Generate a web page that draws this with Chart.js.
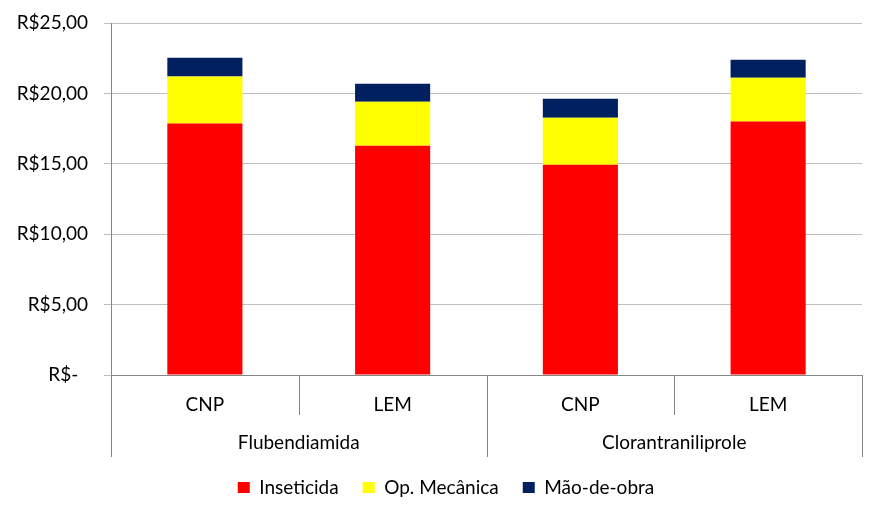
<!DOCTYPE html>
<html>
<head>
<meta charset="utf-8">
<script src="https://cdn.jsdelivr.net/npm/chart.js@4.4.1/dist/chart.umd.min.js"></script>
<style>
  body { margin: 0; background: #fff; }
</style>
</head>
<body>
<canvas id="costChart" width="886" height="517"></canvas>
<script>
// data
const categories = ['CNP', 'LEM', 'CNP', 'LEM'];
const groups = ['Flubendiamida', 'Clorantraniliprole'];
const groupSize = 2;
const inseticida = [17.86, 16.28, 14.93, 18.00];
const opMecanica = [3.34, 3.12, 3.34, 3.11];
const maoDeObra = [1.33, 1.28, 1.35, 1.28];
const yTicks = [0, 5, 10, 15, 20, 25];

const FONT = 'Lato, "Open Sans", sans-serif';
const AXIS_GRAY = '#868686';

function formatReal(v) {
    if (v === 0) return 'R$-  ';
    return 'R$' + v.toFixed(2).replace('.', ',');
}

// draws the category dividers and the second (group) row of the x axis
const groupAxis = {
    id: 'groupAxis',
    afterLayout(chart) {
        // center the legend on the whole canvas, like the original
        chart.legend.right += 30;
    },
    afterDraw(chart) {
        const x = chart.scales.x;
        const ctx = chart.ctx;
        const top = chart.chartArea.bottom;
        ctx.save();
        ctx.strokeStyle = AXIS_GRAY;
        ctx.lineWidth = 1;
        for (let i = 0; i <= categories.length; i++) {
            const px = Math.round(x.getPixelForValue(i - 0.5)) + 0.5;
            const len = (i % groupSize === 0) ? 82 : 40;
            ctx.beginPath();
            ctx.moveTo(px, top);
            ctx.lineTo(px, top + len);
            ctx.stroke();
        }
        ctx.fillStyle = '#000';
        ctx.font = '19px ' + FONT;
        ctx.textAlign = 'center';
        ctx.textBaseline = 'middle';
        groups.forEach((g, gi) => {
            const mid = gi * groupSize + (groupSize - 1) / 2;
            ctx.fillText(g, x.getPixelForValue(mid), top + 68);
        });
        ctx.restore();
    }
};

const ctx = document.getElementById('costChart');
new Chart(ctx, {
    type: 'bar',
    data: {
        labels: categories,
        datasets: [
            { label: 'Inseticida', data: inseticida, backgroundColor: '#FF0000' },
            { label: 'Op. Mecânica', data: opMecanica, backgroundColor: '#FFFF00' },
            { label: 'Mão-de-obra', data: maoDeObra, backgroundColor: '#002060' }
        ]
    },
    options: {
        responsive: false,
        animation: false,
        devicePixelRatio: 1,
        layout: { padding: { top: 23, right: 24, bottom: 10, left: 0 } },
        datasets: {
            bar: { categoryPercentage: 1, barPercentage: 0.4 }
        },
        scales: {
            x: {
                stacked: true,
                grid: { display: false },
                border: { display: true, color: AXIS_GRAY },
                ticks: {
                    color: '#000',
                    font: { family: FONT, size: 19 },
                    padding: 10,
                    maxRotation: 0
                },
                afterFit(scale) { scale.height = 79; }
            },
            y: {
                stacked: true,
                min: 0,
                max: 25,
                afterBuildTicks(scale) { scale.ticks = yTicks.map(v => ({ value: v })); },
                grid: { color: '#BFBFBF', tickLength: 7 },
                border: { display: true, color: AXIS_GRAY },
                ticks: {
                    color: '#000',
                    font: { family: FONT, size: 19 },
                    padding: 16,
                    callback: v => formatReal(v)
                },
                afterFit(scale) {
                    scale.width = 111;
                    scale.paddingTop = 0;
                    scale.paddingBottom = 0;
                }
            }
        },
        plugins: {
            tooltip: { enabled: false },
            legend: {
                position: 'bottom',
                labels: {
                    color: '#000',
                    font: { family: FONT, size: 19 },
                    boxWidth: 12,
                    boxHeight: 11,
                    padding: 24
                }
            }
        }
    },
    plugins: [groupAxis]
});
</script>
</body>
</html>
